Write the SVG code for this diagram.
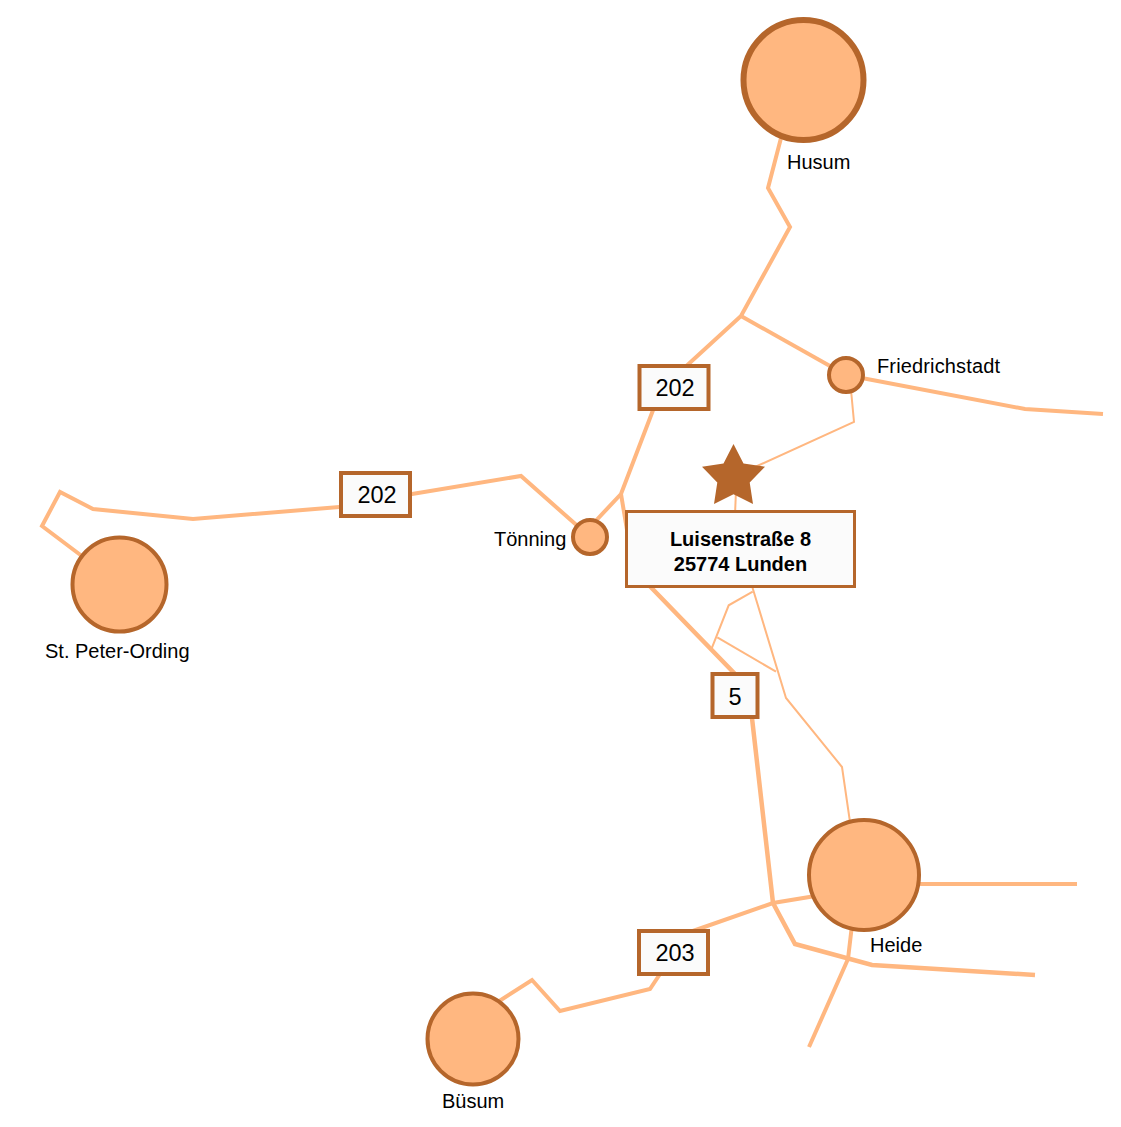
<svg xmlns="http://www.w3.org/2000/svg" width="1121" height="1127" viewBox="0 0 1121 1127">
<style>
text{font-family:"Liberation Sans",Arial,sans-serif;fill:#000}
.road{fill:none;stroke:#FFB780;stroke-width:4;stroke-linejoin:miter}
.thin{fill:none;stroke:#FFB780;stroke-width:2}
.main{fill:none;stroke:#FFB780;stroke-width:4.5}
.city{fill:#FFB780;stroke:#B5662B;stroke-width:4}
.lbl{font-size:20px}
.num{fill:#FBFBFB;stroke:#B5662B;stroke-width:4}
.numt{font-size:23.500px;text-anchor:middle}
.addr{font-size:20px;font-weight:bold;text-anchor:middle}
</style>
<g id="connectors">
<polyline class="road" points="781,138 768,188 790,227 741,316 682,370"/>
<polyline class="road" points="741,316 846,375"/>
<polyline class="road" points="846,375 1025,409 1103,414"/>
<polyline class="road" points="655,405 621,494 590,527"/>
<polyline class="road" points="621,494 627,530"/>
<polyline class="main" points="640,576 735,674 752,718 773,903 795,944 872,965 1035,975"/>
<polyline class="road" points="864,888 773,903 690,932"/>
<polyline class="road" points="864,884 1077,884"/>
<polyline class="road" points="852,925 848,959 809,1047"/>
<polyline class="road" points="662,971 650,989 560,1011 532,980 490,1007"/>
<polyline class="road" points="400,496 521,476 590,537"/>
<polyline class="road" points="376,504 193,519 93,509 60,492 42,526 119,584"/>
<polyline class="thin" points="851,390 854,422 733,477"/>
<polyline class="thin" points="736,490 735,515"/>
<polyline class="thin" points="752,586 786,698 842,767 850,822"/>
<polyline class="thin" points="752.700,591.700 728.700,605.300 711.700,648.300"/>
<polyline class="thin" points="717.300,637.300 776,671.700"/>
</g>
<g id="node-husum"><circle cx="803.500" cy="80" r="60" class="city" style="stroke-width:6"/><text class="lbl" x="787" y="169">Husum</text></g>
<g id="node-friedrichstadt"><circle cx="846" cy="375" r="17" class="city"/><text class="lbl" x="877" y="373" textLength="123">Friedrichstadt</text></g>
<g id="node-toenning"><circle cx="590" cy="537" r="17" class="city"/><text class="lbl" x="494" y="546">Tönning</text></g>
<g id="node-stpeter"><circle cx="119.500" cy="584.500" r="47" class="city"/><text class="lbl" x="45" y="658">St. Peter-Ording</text></g>
<g id="node-heide"><circle cx="864" cy="875" r="55" class="city"/><text class="lbl" x="870" y="952">Heide</text></g>
<g id="node-buesum"><circle cx="473" cy="1039" r="45.500" class="city"/><text class="lbl" x="442" y="1108">Büsum</text></g>
<g id="route-202a"><rect class="num" x="639.500" y="366" width="69" height="43"/><text class="numt" x="675" y="396">202</text></g>
<g id="route-202b"><rect class="num" x="341" y="473" width="69" height="43"/><text class="numt" x="377" y="503">202</text></g>
<g id="route-5"><rect class="num" x="712.500" y="674" width="45" height="43"/><text class="numt" x="735" y="705">5</text></g>
<g id="route-203"><rect class="num" x="639" y="931" width="69" height="43"/><text class="numt" x="675" y="961">203</text></g>
<g id="marker-star"><polygon fill="#B5662B" points="733.500,444 743.500,463.400 765,466.700 749.700,482.500 753,504 733.500,494.200 714,504 717.300,482.500 702,466.700 723.500,463.400"/></g>
<g id="address"><rect x="626.500" y="511.500" width="228" height="75" fill="#FBFBFB" stroke="#B5662B" stroke-width="3"/><text class="addr" x="740.500" y="546">Luisenstraße 8</text><text class="addr" x="740.500" y="571">25774 Lunden</text></g>
</svg>
